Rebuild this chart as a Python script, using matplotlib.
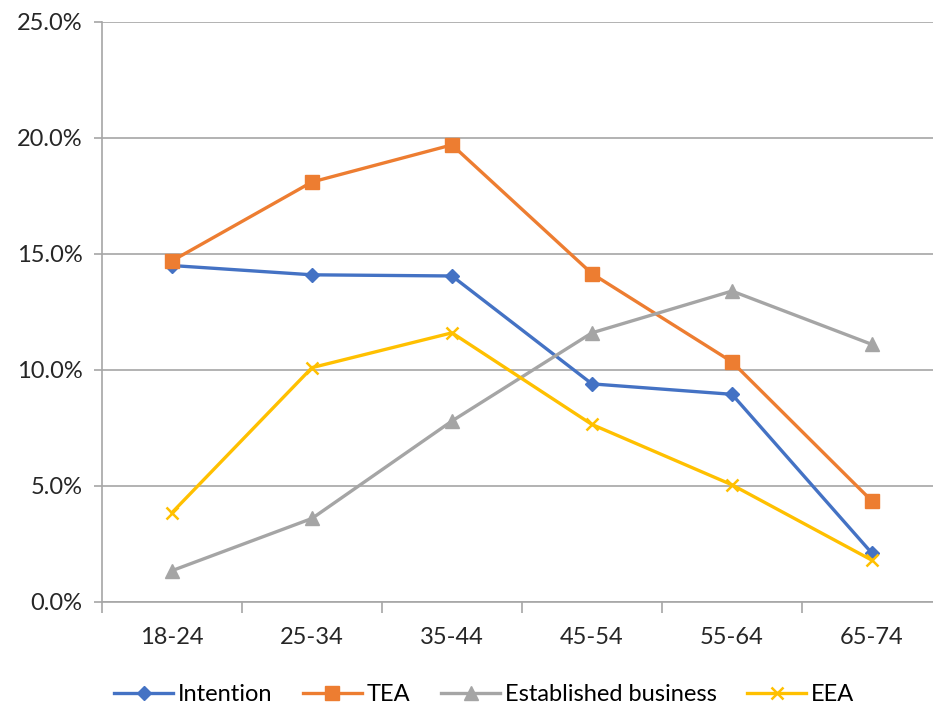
import numpy as np
import matplotlib.pyplot as plt
from matplotlib.ticker import FuncFormatter

plt.rcParams['font.family'] = ['Lato', 'DejaVu Sans']

ages = ['18-24', '25-34', '35-44', '45-54', '55-64', '65-74']
intention = [14.5, 14.1, 14.05, 9.4, 8.95, 2.1]
tea = [14.7, 18.1, 19.7, 14.15, 10.35, 4.35]
established = [1.35, 3.6, 7.8, 11.6, 13.4, 11.1]
eea = [3.85, 10.1, 11.6, 7.65, 5.05, 1.8]

series = [
    ('Intention', intention, '#4472C4', 'D', 7.5),
    ('TEA', tea, '#ED7D31', 's', 10),
    ('Established business', established, '#A5A5A5', '^', 10),
    ('EEA', eea, '#FFC000', 'x', 9),
]

fig = plt.figure(figsize=(9.33, 7.04), dpi=100)
ax = fig.add_axes([0.1093, 0.1449, 0.9003, 0.824])

x = np.arange(len(ages))
for name, vals, col, mk, ms in series:
    ax.plot(x, vals, color=col, lw=2.4, marker=mk, ms=ms, mew=1.8 if mk == 'x' else 1,
            mec=col, mfc=col, label=name, clip_on=False, zorder=3)

ax.set_xlim(-0.5, len(ages) - 0.5)
ax.set_ylim(0, 25)
ax.set_yticks(np.arange(0, 26, 5))
ax.yaxis.set_major_formatter(FuncFormatter(lambda v, p: f'{v:.1f}%'))
ax.set_xticks(x)
ax.set_xticklabels(ages)
ax.set_xticks(np.arange(-0.5, len(ages), 1), minor=True)
ax.grid(axis='y', color='#A6A6A6', lw=1.2)
ax.set_axisbelow(True)

for s in ['top', 'right']:
    ax.spines[s].set_visible(False)
for s in ['left', 'bottom']:
    ax.spines[s].set_color('#A6A6A6')
    ax.spines[s].set_linewidth(1.2)

ax.tick_params(axis='y', length=6, color='#A6A6A6', width=1.2, labelsize=17, labelcolor='#262626', pad=8)
ax.tick_params(axis='x', which='major', length=0, labelsize=17, labelcolor='#262626', pad=18)
ax.tick_params(axis='x', which='minor', length=8, color='#A6A6A6', width=1.2)

ax.legend(loc='lower center', bbox_to_anchor=(0.455, -0.215), ncol=4, frameon=False,
          fontsize=17, handlelength=2.5, columnspacing=1.3, handletextpad=0.2)

fig.savefig('out.png', dpi=100)
